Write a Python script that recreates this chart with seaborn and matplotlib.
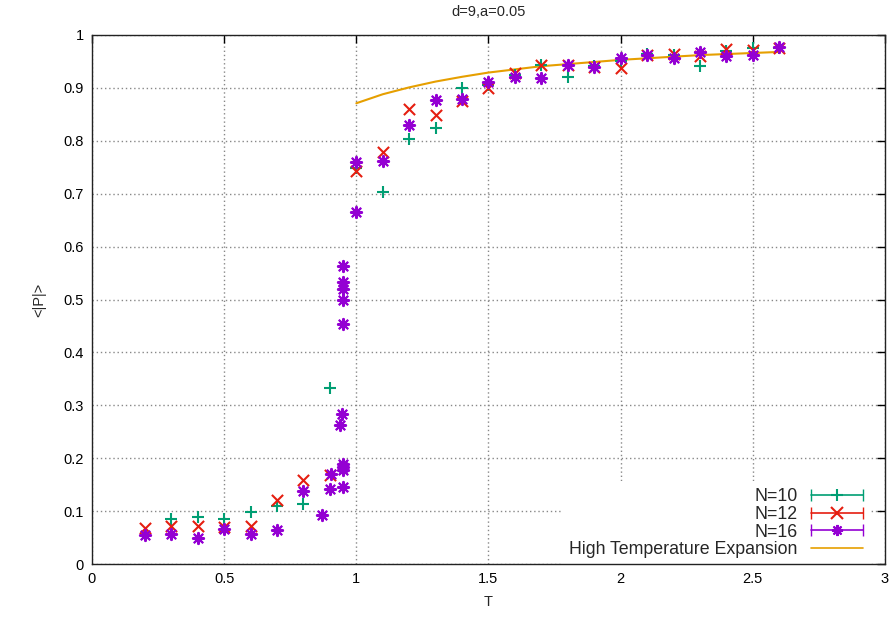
import matplotlib
matplotlib.use("Agg")
import matplotlib.pyplot as plt
import seaborn as sns
import pandas as pd
from matplotlib.lines import Line2D
from matplotlib.legend_handler import HandlerBase

sns.set_style("white")
plt.rcParams['font.family'] = ['Liberation Sans', 'DejaVu Sans']

# ---- data ----
T10 = [0.3, 0.4, 0.5, 0.6, 0.7, 0.8, 0.9, 1.0, 1.1, 1.2, 1.3, 1.4, 1.5, 1.6, 1.7,
       1.8, 1.9, 2.0, 2.1, 2.2, 2.3, 2.4, 2.5, 2.6]
P10 = [0.086, 0.089, 0.086, 0.098, 0.110, 0.113, 0.332, 0.749, 0.703, 0.803, 0.824,
       0.899, 0.905, 0.925, 0.944, 0.920, 0.942, 0.950, 0.964, 0.962, 0.942, 0.970,
       0.976, 0.976]

T12 = [0.2, 0.3, 0.4, 0.5, 0.6, 0.7, 0.8, 0.9, 1.0, 1.1, 1.2, 1.3, 1.4, 1.5, 1.6,
       1.7, 1.8, 1.9, 2.0, 2.1, 2.2, 2.3, 2.4, 2.5, 2.6]
P12 = [0.0675, 0.071, 0.0725, 0.069, 0.072, 0.121, 0.159, 0.168, 0.743, 0.778,
       0.861, 0.849, 0.875, 0.899, 0.929, 0.943, 0.943, 0.940, 0.938, 0.963, 0.965,
       0.961, 0.974, 0.972, 0.976]

T16 = [0.2, 0.3, 0.4, 0.5, 0.6, 0.7, 0.8, 0.87, 0.9, 0.905, 0.94, 0.945,
       0.95, 0.95, 0.95, 0.95, 0.95, 0.95, 0.95, 0.95, 0.95,
       1.0, 1.0, 1.1, 1.2, 1.3, 1.4, 1.5, 1.6, 1.7, 1.8, 1.9, 2.0, 2.1, 2.2, 2.3,
       2.4, 2.5, 2.6]
P16 = [0.055, 0.057, 0.049, 0.066, 0.056, 0.064, 0.138, 0.092, 0.142, 0.170, 0.263,
       0.284, 0.146, 0.178, 0.183, 0.189, 0.453, 0.500, 0.519, 0.534, 0.564,
       0.759, 0.665, 0.762, 0.830, 0.877, 0.879, 0.912, 0.920, 0.919, 0.943, 0.940,
       0.957, 0.963, 0.956, 0.967, 0.961, 0.963, 0.977]

T_hte = [1.0, 1.1, 1.2, 1.3, 1.4, 1.5, 1.6, 1.7, 1.8, 1.9, 2.0, 2.1, 2.2, 2.3, 2.4,
         2.5, 2.6]
P_hte = [0.871, 0.888, 0.901, 0.912, 0.921, 0.929, 0.935, 0.941, 0.945, 0.949,
         0.953, 0.956, 0.959, 0.962, 0.964, 0.966, 0.968]

labels = ["N=10", "N=12", "N=16", "High Temperature Expansion"]
colors = ["#009e73", "#e51e10", "#9400d3", "#e69f00"]
markers = ["+", "x", (8, 2, 0)]
xticks = [0, 0.5, 1, 1.5, 2, 2.5, 3]
yticks = [0, 0.1, 0.2, 0.3, 0.4, 0.5, 0.6, 0.7, 0.8, 0.9, 1]

# ---- figure ----
fig = plt.figure(figsize=(8.92, 6.21), dpi=100)
ax = fig.add_axes([92 / 892, 1 - 564 / 621, (885 - 92) / 892, (564 - 35) / 621])

ax.grid(True, color="#888888", linestyle=(0, (1, 2)), linewidth=1.0)
ax.set_axisbelow(True)

sns.lineplot(x=T_hte, y=P_hte, color=colors[3], linewidth=1.5, ax=ax, zorder=3)
series = [(T10, P10), (T12, P12), (T16, P16)]
for (tt, pp), c, m in zip(series, colors[:3], markers):
    df = pd.DataFrame({"T": tt, "P": pp})
    sns.scatterplot(data=df, x="T", y="P", color=c, marker=m, s=65,
                    linewidth=1.5, ax=ax, zorder=4, legend=False)

ax.set_xlim(0, 3)
ax.set_ylim(0, 1)
ax.set_xticks(xticks)
ax.set_xticklabels([f"{v:g}" for v in xticks])
ax.set_yticks(yticks)
ax.set_yticklabels([f"{v:g}" for v in yticks])
ax.tick_params(direction="in", length=6, width=1, top=True, right=True,
               labelsize=10.5, colors="black", pad=6)
for sp in ax.spines.values():
    sp.set_visible(True)
    sp.set_color("#222222")
    sp.set_linewidth(1.0)
    sp.set_zorder(6)

ax.set_xlabel("T", fontsize=10.5, labelpad=6)
ax.set_ylabel("<|P|>", fontsize=10.5, labelpad=12)
ax.set_title("d=9,a=0.05", fontsize=10.5, pad=14)


class HandlerErrH(HandlerBase):
    def __init__(self, marker=None, **kw):
        super().__init__(**kw)
        self.marker = marker

    def create_artists(self, legend, orig_handle, xdescent, ydescent, width,
                       height, fontsize, trans):
        y = height / 2 - ydescent
        x0, x1 = -xdescent, width - xdescent
        c = orig_handle.get_color()
        arts = [Line2D([x0, x1], [y, y], color=c, lw=1.2)]
        if self.marker is not None:
            arts.append(Line2D([x0, x1], [y, y], color=c, lw=1.2, marker="|",
                               markersize=9, linestyle="none"))
            arts.append(Line2D([(x0 + x1) / 2], [y], color=c, marker=self.marker,
                               markersize=8, markeredgewidth=1.5, linestyle="none"))
        for a in arts:
            a.set_transform(trans)
        return arts


handles = [Line2D([], [], color=c) for c in colors]
hmap = {handles[i]: HandlerErrH(marker=markers[i]) for i in range(3)}
hmap[handles[3]] = HandlerErrH(marker=None)
leg = ax.legend(handles, labels, handler_map=hmap, loc="lower right",
                bbox_to_anchor=(0.983, -0.006), markerfirst=False, fontsize=12.8,
                frameon=True, facecolor="white", edgecolor="none", framealpha=1,
                handlelength=2.9, handletextpad=0.75, labelspacing=0.04,
                borderpad=0.4, borderaxespad=0.1)
leg.set_zorder(5)

fig.savefig("out.png", dpi=100)
